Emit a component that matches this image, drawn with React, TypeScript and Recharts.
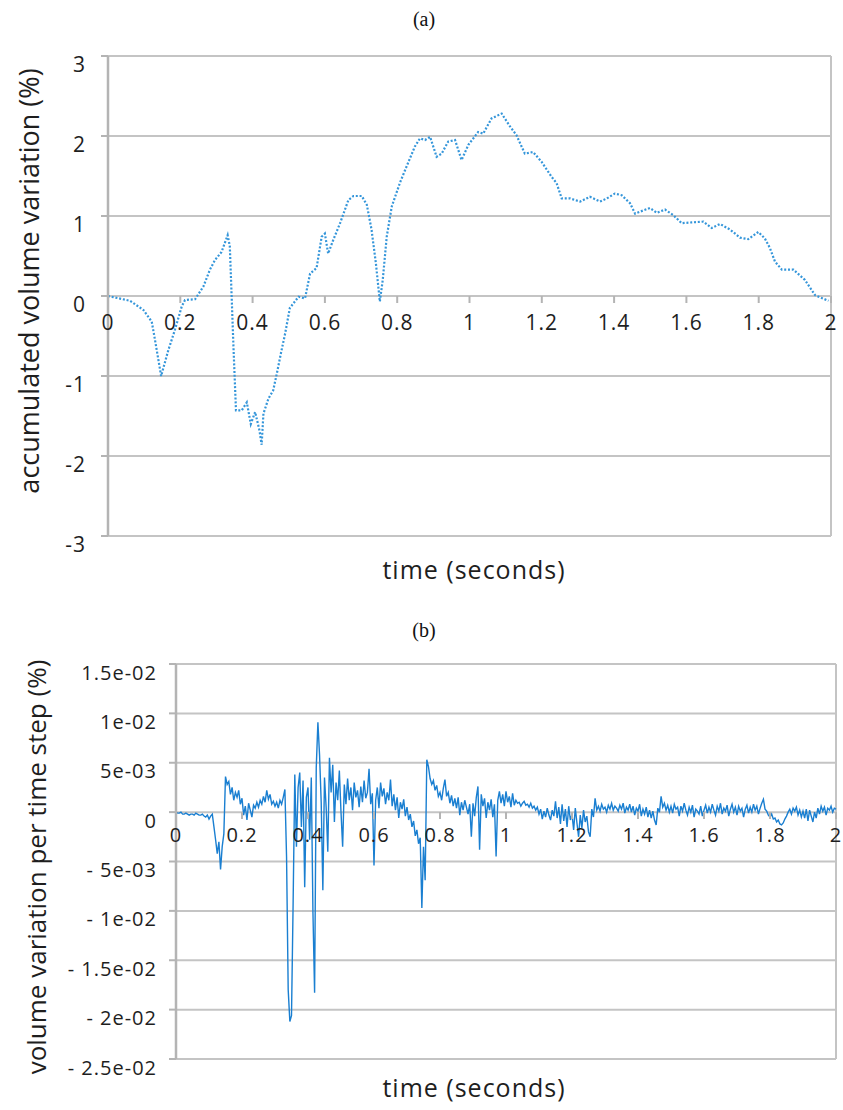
import React from "react";
import { CartesianGrid, Line, LineChart, ReferenceLine, XAxis, YAxis } from "recharts";

// shared x axis
const timeTicks = [0, 0.2, 0.4, 0.6, 0.8, 1, 1.2, 1.4, 1.6, 1.8, 2];

// (a) accumulated volume variation (%)
const accTicks = [-3, -2, -1, 0, 1, 2, 3];
const accTime = [
  0, 0.061, 0.098, 0.121, 0.13, 0.147, 0.167, 0.185, 0.204, 0.213, 0.241, 0.264, 0.282, 0.296, 0.314, 0.331,
  0.337, 0.342, 0.347, 0.354, 0.37, 0.384, 0.395, 0.407, 0.419, 0.425, 0.43, 0.444, 0.457, 0.467, 0.48, 0.49,
  0.503, 0.527, 0.545, 0.559, 0.577, 0.591, 0.6, 0.609, 0.623, 0.642, 0.665, 0.679, 0.702, 0.716, 0.729, 0.741,
  0.752, 0.76, 0.771, 0.785, 0.808, 0.826, 0.849, 0.863, 0.877, 0.891, 0.909, 0.923, 0.941, 0.96, 0.978, 0.997,
  1.024, 1.038, 1.061, 1.089, 1.112, 1.13, 1.153, 1.176, 1.199, 1.227, 1.241, 1.255, 1.278, 1.306, 1.333, 1.361,
  1.38, 1.402, 1.421, 1.444, 1.458, 1.481, 1.499, 1.518, 1.541, 1.564, 1.587, 1.615, 1.647, 1.67, 1.693, 1.721,
  1.748, 1.771, 1.799, 1.817, 1.831, 1.845, 1.864, 1.896, 1.928, 1.956, 1.993,
];
const accVolume = [
  0, -0.06, -0.175, -0.32, -0.55, -1.0, -0.675, -0.425, -0.13, -0.05, -0.04, 0.12, 0.33, 0.45, 0.55, 0.76,
  0.62, 0.0, -0.63, -1.43, -1.43, -1.33, -1.6, -1.45, -1.68, -1.86, -1.47, -1.28, -1.18, -0.97, -0.68, -0.47,
  -0.15, -0.01, -0.03, 0.28, 0.35, 0.74, 0.78, 0.53, 0.7, 0.91, 1.2, 1.25, 1.25, 1.14, 0.83, 0.41,
  -0.07, 0.2, 0.74, 1.12, 1.42, 1.62, 1.87, 1.97, 1.95, 1.99, 1.74, 1.78, 1.93, 1.95, 1.7, 1.89,
  2.05, 2.03, 2.22, 2.28, 2.12, 2.01, 1.78, 1.8, 1.68, 1.49, 1.41, 1.22, 1.22, 1.18, 1.24, 1.18,
  1.22, 1.28, 1.26, 1.16, 1.03, 1.07, 1.1, 1.04, 1.08, 1.01, 0.91, 0.92, 0.93, 0.85, 0.9, 0.83,
  0.73, 0.71, 0.8, 0.72, 0.6, 0.43, 0.33, 0.33, 0.2, 0.01, -0.06,
];

// (b) volume variation per time step, in units of 1e-3 %
const stepTicks = [-25, -20, -15, -10, -5, 0, 5, 10, 15];
const stepTickLabels = ["- 2.5e-02", "- 2e-02", "- 1.5e-02", "- 1e-02", "- 5e-03", "0", "5e-03", "1e-02", "1.5e-02"];
const stepTime = [
  0, 0.005, 0.01, 0.015, 0.02, 0.025, 0.03, 0.035, 0.04, 0.045, 0.05, 0.055, 0.06, 0.065, 0.07, 0.075, 0.08, 0.085, 0.09, 0.095,
  0.1, 0.105, 0.11, 0.115, 0.12, 0.125, 0.13, 0.135, 0.14, 0.145, 0.15, 0.155, 0.16, 0.165, 0.17, 0.175, 0.18, 0.185, 0.19, 0.195,
  0.2, 0.205, 0.21, 0.215, 0.22, 0.225, 0.23, 0.235, 0.24, 0.245, 0.25, 0.255, 0.26, 0.265, 0.27, 0.275, 0.28, 0.285, 0.29, 0.295,
  0.3, 0.305, 0.31, 0.315, 0.32, 0.325, 0.33, 0.335, 0.34, 0.345, 0.35, 0.355, 0.36, 0.365, 0.37, 0.375, 0.38, 0.385, 0.39, 0.395,
  0.4, 0.405, 0.41, 0.415, 0.42, 0.425, 0.43, 0.435, 0.44, 0.445, 0.45, 0.455, 0.46, 0.465, 0.47, 0.475, 0.48, 0.485, 0.49, 0.495,
  0.5, 0.505, 0.51, 0.515, 0.52, 0.525, 0.53, 0.535, 0.54, 0.545, 0.55, 0.555, 0.56, 0.565, 0.57, 0.575, 0.58, 0.585, 0.59, 0.595,
  0.6, 0.605, 0.61, 0.615, 0.62, 0.625, 0.63, 0.635, 0.64, 0.645, 0.65, 0.655, 0.66, 0.665, 0.67, 0.675, 0.68, 0.685, 0.69, 0.695,
  0.7, 0.705, 0.71, 0.715, 0.72, 0.725, 0.73, 0.735, 0.74, 0.745, 0.75, 0.755, 0.76, 0.765, 0.77, 0.775, 0.78, 0.785, 0.79, 0.795,
  0.8, 0.805, 0.81, 0.815, 0.82, 0.825, 0.83, 0.835, 0.84, 0.845, 0.85, 0.855, 0.86, 0.865, 0.87, 0.875, 0.88, 0.885, 0.89, 0.895,
  0.9, 0.905, 0.91, 0.915, 0.92, 0.925, 0.93, 0.935, 0.94, 0.945, 0.95, 0.955, 0.96, 0.965, 0.97, 0.975, 0.98, 0.985, 0.99, 0.995,
  1.0, 1.005, 1.01, 1.015, 1.02, 1.025, 1.03, 1.035, 1.04, 1.045, 1.05, 1.055, 1.06, 1.065, 1.07, 1.075, 1.08, 1.085, 1.09, 1.095,
  1.1, 1.105, 1.11, 1.115, 1.12, 1.125, 1.13, 1.135, 1.14, 1.145, 1.15, 1.155, 1.16, 1.165, 1.17, 1.175, 1.18, 1.185, 1.19, 1.195,
  1.2, 1.205, 1.21, 1.215, 1.22, 1.225, 1.23, 1.235, 1.24, 1.245, 1.25, 1.255, 1.26, 1.265, 1.27, 1.275, 1.28, 1.285, 1.29, 1.295,
  1.3, 1.305, 1.31, 1.315, 1.32, 1.325, 1.33, 1.335, 1.34, 1.345, 1.35, 1.355, 1.36, 1.365, 1.37, 1.375, 1.38, 1.385, 1.39, 1.395,
  1.4, 1.405, 1.41, 1.415, 1.42, 1.425, 1.43, 1.435, 1.44, 1.445, 1.45, 1.455, 1.46, 1.465, 1.47, 1.475, 1.48, 1.485, 1.49, 1.495,
  1.5, 1.505, 1.51, 1.515, 1.52, 1.525, 1.53, 1.535, 1.54, 1.545, 1.55, 1.555, 1.56, 1.565, 1.57, 1.575, 1.58, 1.585, 1.59, 1.595,
  1.6, 1.605, 1.61, 1.615, 1.62, 1.625, 1.63, 1.635, 1.64, 1.645, 1.65, 1.655, 1.66, 1.665, 1.67, 1.675, 1.68, 1.685, 1.69, 1.695,
  1.7, 1.705, 1.71, 1.715, 1.72, 1.725, 1.73, 1.735, 1.74, 1.745, 1.75, 1.755, 1.76, 1.765, 1.77, 1.775, 1.78, 1.785, 1.79, 1.795,
  1.8, 1.805, 1.81, 1.815, 1.82, 1.825, 1.83, 1.835, 1.84, 1.845, 1.85, 1.855, 1.86, 1.865, 1.87, 1.875, 1.88, 1.885, 1.89, 1.895,
  1.9, 1.905, 1.91, 1.915, 1.92, 1.925, 1.93, 1.935, 1.94, 1.945, 1.95, 1.955, 1.96, 1.965, 1.97, 1.975, 1.98, 1.985, 1.99, 1.995,
  2.0,
];
const stepVariation = [
  0, -0.1, -0.1, 0, -0.2, -0.2, -0.1, -0.2, -0.3, -0.2, -0.2, -0.3, -0.1, -0.2, -0.3, -0.3, -0.2, -0.4, -0.5, -0.3,
  -0.7, -0.4, -0.2, -1.5, -2.8, -4.2, -3.0, -5.8, -3.5, -2.2, 3.6, 2.8, 3.1, 1.8, 2.5, 1.2, 2.0, 1.5, 2.2, 0.8,
  1.4, -0.3, 0.6, -0.8, 0.9, 0.2, -0.5, 0.7, 0.4, 1.0, 0.5, 1.2, 0.8, 1.6, 1.0, 2.2, 1.3, 1.8, 0.8, 1.1,
  0.6, 1.0, 0.4, 1.2, 0.8, 1.5, 2.3, -4.5, -18.0, -21.2, -20.6, -9.0, 3.8, -3.5, 2.5, 4.0, -1.5, 3.2, -7.6, 1.5,
  2.5, -2.8, 3.5, -10.2, -18.3, 4.5, 9.1, 5.8, 1.0, -7.9, 3.5, 0.5, -4.0, 5.5, 2.0, 4.8, -1.0, 3.0, 1.2, 4.2,
  0.0, -3.5, 2.8, 0.8, 3.4, 1.2, 2.5, 0.2, 3.0, 1.5, 2.2, 0.5, 2.6, 1.0, 3.2, 1.4, 2.0, 4.4, 0.8, 1.9,
  -5.4, 1.2, 2.5, 0.4, 3.0, 1.6, 2.4, 0.8, 2.0, 1.2, 3.3, 0.6, 1.8, 0.2, 1.5, -0.6, 1.0, 0.3, 1.3, -0.4,
  0.5, -0.8, -0.2, -1.5, -0.9, -2.4, -1.8, -3.2, -2.6, -9.7, -3.5, -6.9, 5.3, 4.6, 3.4, 2.8, 3.2, 2.2, 2.7, 1.6,
  2.0, 1.2, 2.4, 3.3, 1.6, 2.0, 0.9, 1.7, 0.6, 1.4, 0.4, 1.5, -0.3, 1.0, 0.2, 1.2, 0.5, -0.2, 0.8, -2.5,
  0.9, -0.4, 1.5, 2.6, -3.8, 1.8, 0.6, 1.4, -0.6, 1.0, 0.2, 1.3, -0.5, 0.8, -4.5, 1.2, 2.1, 0.9, 1.8, 0.6,
  2.1, 1.0, 1.6, 0.5, 1.9, 0.7, 1.2, 0.9, 1.0, 0.6, 0.9, 1.1, 0.7, 0.8, 0.5, 0.9, 0.4, 0.6, 0.2, 0.5,
  -0.2, 0.3, -0.7, 0.1, -0.5, 0.4, -0.3, -0.8, 0.2, -0.4, 1.1, -0.6, 0.5, -1.2, 0.8, -0.9, 0.3, -1.5, 0.6, -0.8,
  -0.2, -1.8, 0.4, -1.1, -2.5, -0.3, -1.6, 0.2, -1.0, -0.4, -2.0, -2.5, 0.3, -0.5, 1.4, 0.2, 0.6, 0.1, 0.8, 0.3,
  0.5, 0.0, 0.7, 0.3, 0.9, 0.2, 0.6, 0.4, 0.1, 0.7, 0.3, 0.9, -0.1, 0.5, 0.2, 0.8, 0.0, 0.6, -0.3, 0.4,
  0.1, 0.8, -0.4, 0.3, -0.2, 0.5, -0.5, 0.2, -0.6, 0.1, -0.8, -1.3, 0.4, 0.0, 1.6, 0.5, 0.9, 0.2, 0.7, 0.0,
  0.6, -0.1, 0.8, 0.3, 0.5, -0.4, 0.6, 0.1, 0.9, 0.2, -0.3, 0.5, 0.0, 0.7, -0.5, 0.3, 0.1, -0.2, 0.6, -0.4,
  0.2, 0.7, -0.1, 0.5, 0.0, 0.8, 0.2, -0.3, 0.6, 0.1, 0.9, -0.2, 0.4, 0.1, 0.7, -0.4, 0.3, 0.8, 0.0, 0.5,
  -0.3, 0.6, 0.1, 0.4, -0.5, 0.3, 0.7, -0.1, 0.5, 0.0, 0.8, 0.2, 0.6, -0.2, 0.4, 0.9, 1.3, 0.3, 0.1, -0.3,
  -0.5, -0.2, -0.7, -0.6, -1.0, -0.8, -1.2, -1.3, -1.1, -0.7, -0.4, 0.0, 0.3, -0.2, 0.4, 0.1, 0.5, -0.3, 0.2, -0.5,
  0.1, -0.6, 0.3, -0.9, 0.2, -0.4, -1.0, 0.0, -0.6, 0.4, -0.2, 0.6, 0.1, 0.5, -0.3, 0.4, 0.2, 0.6, 0.0, 0.4,
  0.3,
];

const FONT = '"Open Sans", sans-serif';
const SERIF = '"Liberation Serif", "DejaVu Serif", serif';
const GRID = "#c4c4c4";
const AXIS = "#b4b4b4";
const TEXT = "#1e1e1e";

const accData = accTime.map((t, i) => ({ t, v: accVolume[i] }));
const stepData = stepTime.map((t, i) => ({ t, v: stepVariation[i] }));

// Excel puts the category axis on the zero line, so the labels are drawn there
function ZeroTick(props: any) {
  const { x, y, payload, shift, gap, fontSize } = props;
  const zy = y - shift;
  return (
    <g>
      <line x1={x} y1={zy} x2={x} y2={zy + 7} stroke={AXIS} strokeWidth={2} />
      <text
        x={x}
        y={zy + gap}
        textAnchor="middle"
        dominantBaseline="central"
        fontFamily={FONT}
        fontSize={fontSize}
        letterSpacing={1}
        fill={TEXT}
      >
        {String(payload.value)}
      </text>
    </g>
  );
}

function LeftTick(props: any) {
  const { x, y, payload, fontSize, format } = props;
  return (
    <text
      x={x}
      y={y + 8}
      textAnchor="end"
      dominantBaseline="central"
      fontFamily={FONT}
      fontSize={fontSize}
      letterSpacing={1}
      fill={TEXT}
    >
      {format(payload.value)}
    </text>
  );
}

const titleStyle: React.CSSProperties = {
  position: "absolute",
  fontFamily: FONT,
  color: TEXT,
  whiteSpace: "nowrap",
  lineHeight: 1,
  transform: "translate(-50%, -50%)",
};

export default function App() {
  return (
    <div style={{ position: "relative", width: 843, height: 1110, background: "#fff", overflow: "hidden" }}>
      <style>{"body{margin:0}"}</style>

      <div style={{ ...titleStyle, left: 424, top: 19, fontFamily: SERIF, fontSize: 20, color: "#111" }}>(a)</div>

      <div style={{ position: "absolute", left: 0, top: 0 }}>
        <LineChart width={843} height={600} data={accData} margin={{ top: 56, right: 12, bottom: 34, left: 0 }}>
          <CartesianGrid stroke={GRID} strokeWidth={2} vertical={false} />
          <XAxis
            dataKey="t"
            type="number"
            domain={[0, 2]}
            ticks={timeTicks}
            height={30}
            axisLine={false}
            tickLine={false}
            tickSize={0}
            tickMargin={0}
            interval={0}
            tick={(p: any) => <ZeroTick {...p} shift={240} gap={26} fontSize={21} />}
          />
          <YAxis
            type="number"
            domain={[-3, 3]}
            ticks={accTicks}
            width={108}
            interval={0}
            axisLine={{ stroke: AXIS, strokeWidth: 2.5 }}
            tickLine={{ stroke: AXIS, strokeWidth: 2 }}
            tickSize={7}
            tickMargin={15}
            tick={(p: any) => <LeftTick {...p} fontSize={21} format={(v: number) => String(v)} />}
          />
          <ReferenceLine x={2} stroke={GRID} strokeWidth={2} />
          <Line
            type="linear"
            dataKey="v"
            stroke="#3596da"
            strokeWidth={2.2}
            strokeDasharray="2 1.8"
            dot={false}
            isAnimationActive={false}
          />
        </LineChart>
      </div>

      <div style={{ ...titleStyle, left: 28, top: 281, fontSize: 27, transform: "translate(-50%, -50%) rotate(-90deg)" }}>
        accumulated volume variation (%)
      </div>
      <div style={{ ...titleStyle, left: 474, top: 569, fontSize: 25, letterSpacing: 1 }}>time (seconds)</div>

      <div style={{ ...titleStyle, left: 424, top: 630, fontFamily: SERIF, fontSize: 20, color: "#111" }}>(b)</div>

      <div style={{ position: "absolute", left: 0, top: 600 }}>
        <LineChart width={843} height={510} data={stepData} margin={{ top: 64, right: 7, bottom: 21, left: 0 }}>
          <CartesianGrid stroke={GRID} strokeWidth={2} vertical={false} />
          <XAxis
            dataKey="t"
            type="number"
            domain={[0, 2]}
            ticks={timeTicks}
            height={30}
            axisLine={false}
            tickLine={false}
            tickSize={0}
            tickMargin={0}
            interval={0}
            tick={(p: any) => <ZeroTick {...p} shift={246.9} gap={22} fontSize={20} />}
          />
          <YAxis
            type="number"
            domain={[-25, 15]}
            ticks={stepTicks}
            width={176}
            interval={0}
            axisLine={{ stroke: AXIS, strokeWidth: 2.5 }}
            tickLine={{ stroke: AXIS, strokeWidth: 2 }}
            tickSize={7}
            tickMargin={12}
            tick={(p: any) => (
              <LeftTick {...p} fontSize={20} format={(v: number) => stepTickLabels[stepTicks.indexOf(v)]} />
            )}
          />
          <ReferenceLine x={2} stroke={GRID} strokeWidth={2} />
          <Line
            type="linear"
            dataKey="v"
            stroke="#1a7fd1"
            strokeWidth={1.4}
            dot={false}
            isAnimationActive={false}
          />
        </LineChart>
      </div>

      <div style={{ ...titleStyle, left: 36, top: 867, fontSize: 26, transform: "translate(-50%, -50%) rotate(-90deg)" }}>
        volume variation per time step (%)
      </div>
      <div style={{ ...titleStyle, left: 474, top: 1087, fontSize: 25, letterSpacing: 1 }}>time (seconds)</div>
    </div>
  );
}
